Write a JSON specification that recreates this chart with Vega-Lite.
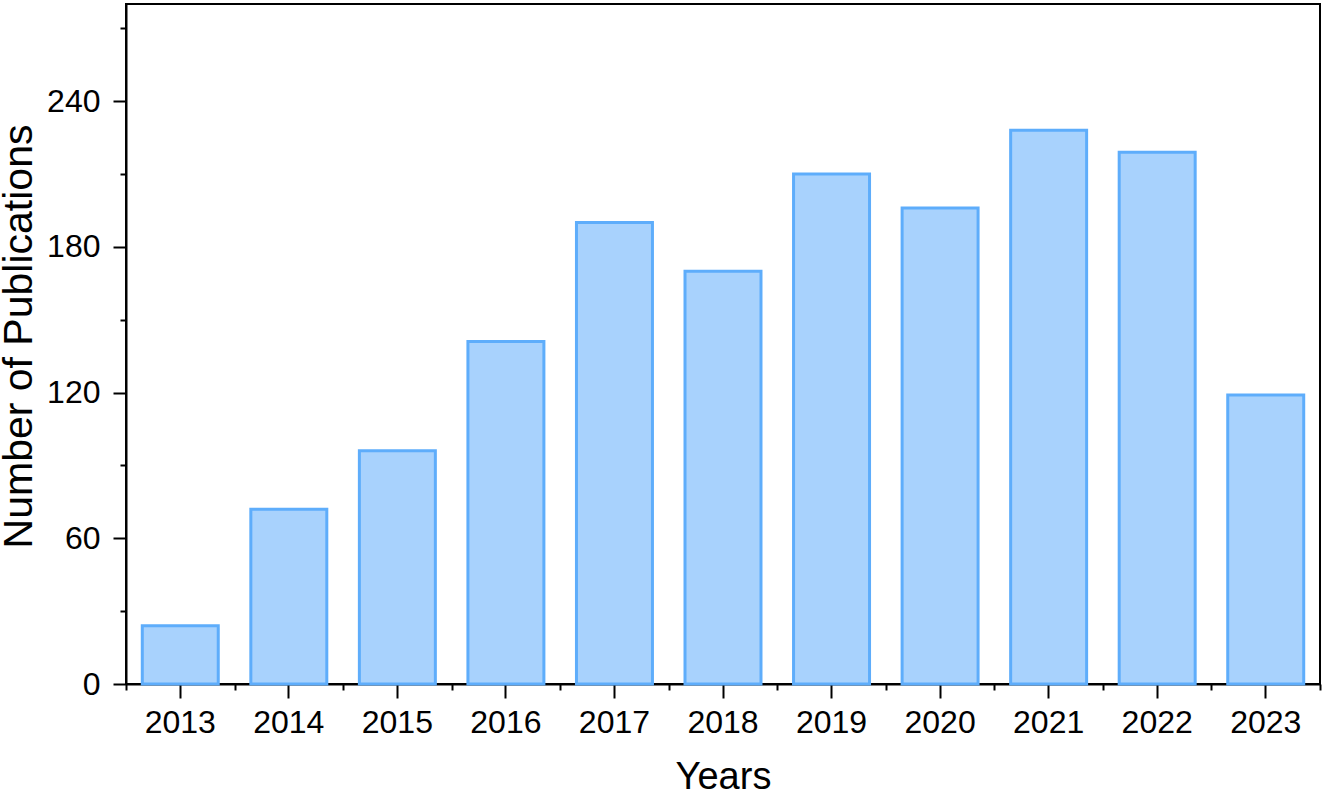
{
  "$schema": "https://vega.github.io/schema/vega-lite/v6.json",
  "width": 1194,
  "height": 680,
  "autosize": {"type": "none"},
  "padding": {"left": 126, "top": 4, "right": 5, "bottom": 111},
  "background": "white",
  "config": {
    "view": {"stroke": "black", "strokeWidth": 2},
    "font": "Liberation Sans",
    "axis": {
      "domainColor": "black",
      "domainWidth": 2,
      "tickColor": "black",
      "tickWidth": 2,
      "grid": false,
      "labelColor": "black",
      "titleColor": "black",
      "labelFont": "Liberation Sans",
      "titleFont": "Liberation Sans",
      "titleFontWeight": "normal"
    }
  },
  "data": {
    "values": [
      {"year": "2013", "count": 24},
      {"year": "2014", "count": 72},
      {"year": "2015", "count": 96},
      {"year": "2016", "count": 141},
      {"year": "2017", "count": 190},
      {"year": "2018", "count": 170},
      {"year": "2019", "count": 210},
      {"year": "2020", "count": 196},
      {"year": "2021", "count": 228},
      {"year": "2022", "count": 219},
      {"year": "2023", "count": 119}
    ]
  },
  "layer": [
    {
      "mark": {"type": "bar", "fillOpacity": 0, "strokeOpacity": 0},
      "encoding": {
        "x": {
          "field": "year", "type": "ordinal",
          "scale": {"paddingInner": 0, "paddingOuter": 0},
          "axis": {"orient": "bottom", "tickBand": "extent", "tickSize": 6, "labels": false, "title": null, "domain": false}
        },
        "y": {
          "field": "count", "type": "quantitative",
          "scale": {"domain": [0, 280], "nice": false},
          "axis": {"orient": "left", "values": [30, 90, 150, 210, 270], "tickSize": 6, "labels": false, "title": null, "domain": false}
        }
      }
    },
    {
      "mark": {"type": "bar", "fill": "#A8D2FD", "stroke": "#5EADFB", "strokeWidth": 3},
      "encoding": {
        "x": {
          "field": "year", "type": "ordinal",
          "scale": {"paddingInner": 0.3, "paddingOuter": 0.15},
          "axis": {"orient": "bottom", "labelAngle": 0, "tickSize": 14, "labelPadding": 9, "labelFontSize": 32, "title": "Years", "titleFontSize": 38, "titlePadding": 20}
        },
        "y": {
          "field": "count", "type": "quantitative",
          "scale": {"domain": [0, 280], "nice": false},
          "axis": {"orient": "left", "values": [0, 60, 120, 180, 240], "tickSize": 13, "labelPadding": 13, "labelFontSize": 32, "title": "Number of Publications", "titleFontSize": 41, "titlePadding": 6, "titleY": 332}
        }
      }
    }
  ],
  "resolve": {"scale": {"x": "independent"}, "axis": {"x": "independent", "y": "independent"}}
}
